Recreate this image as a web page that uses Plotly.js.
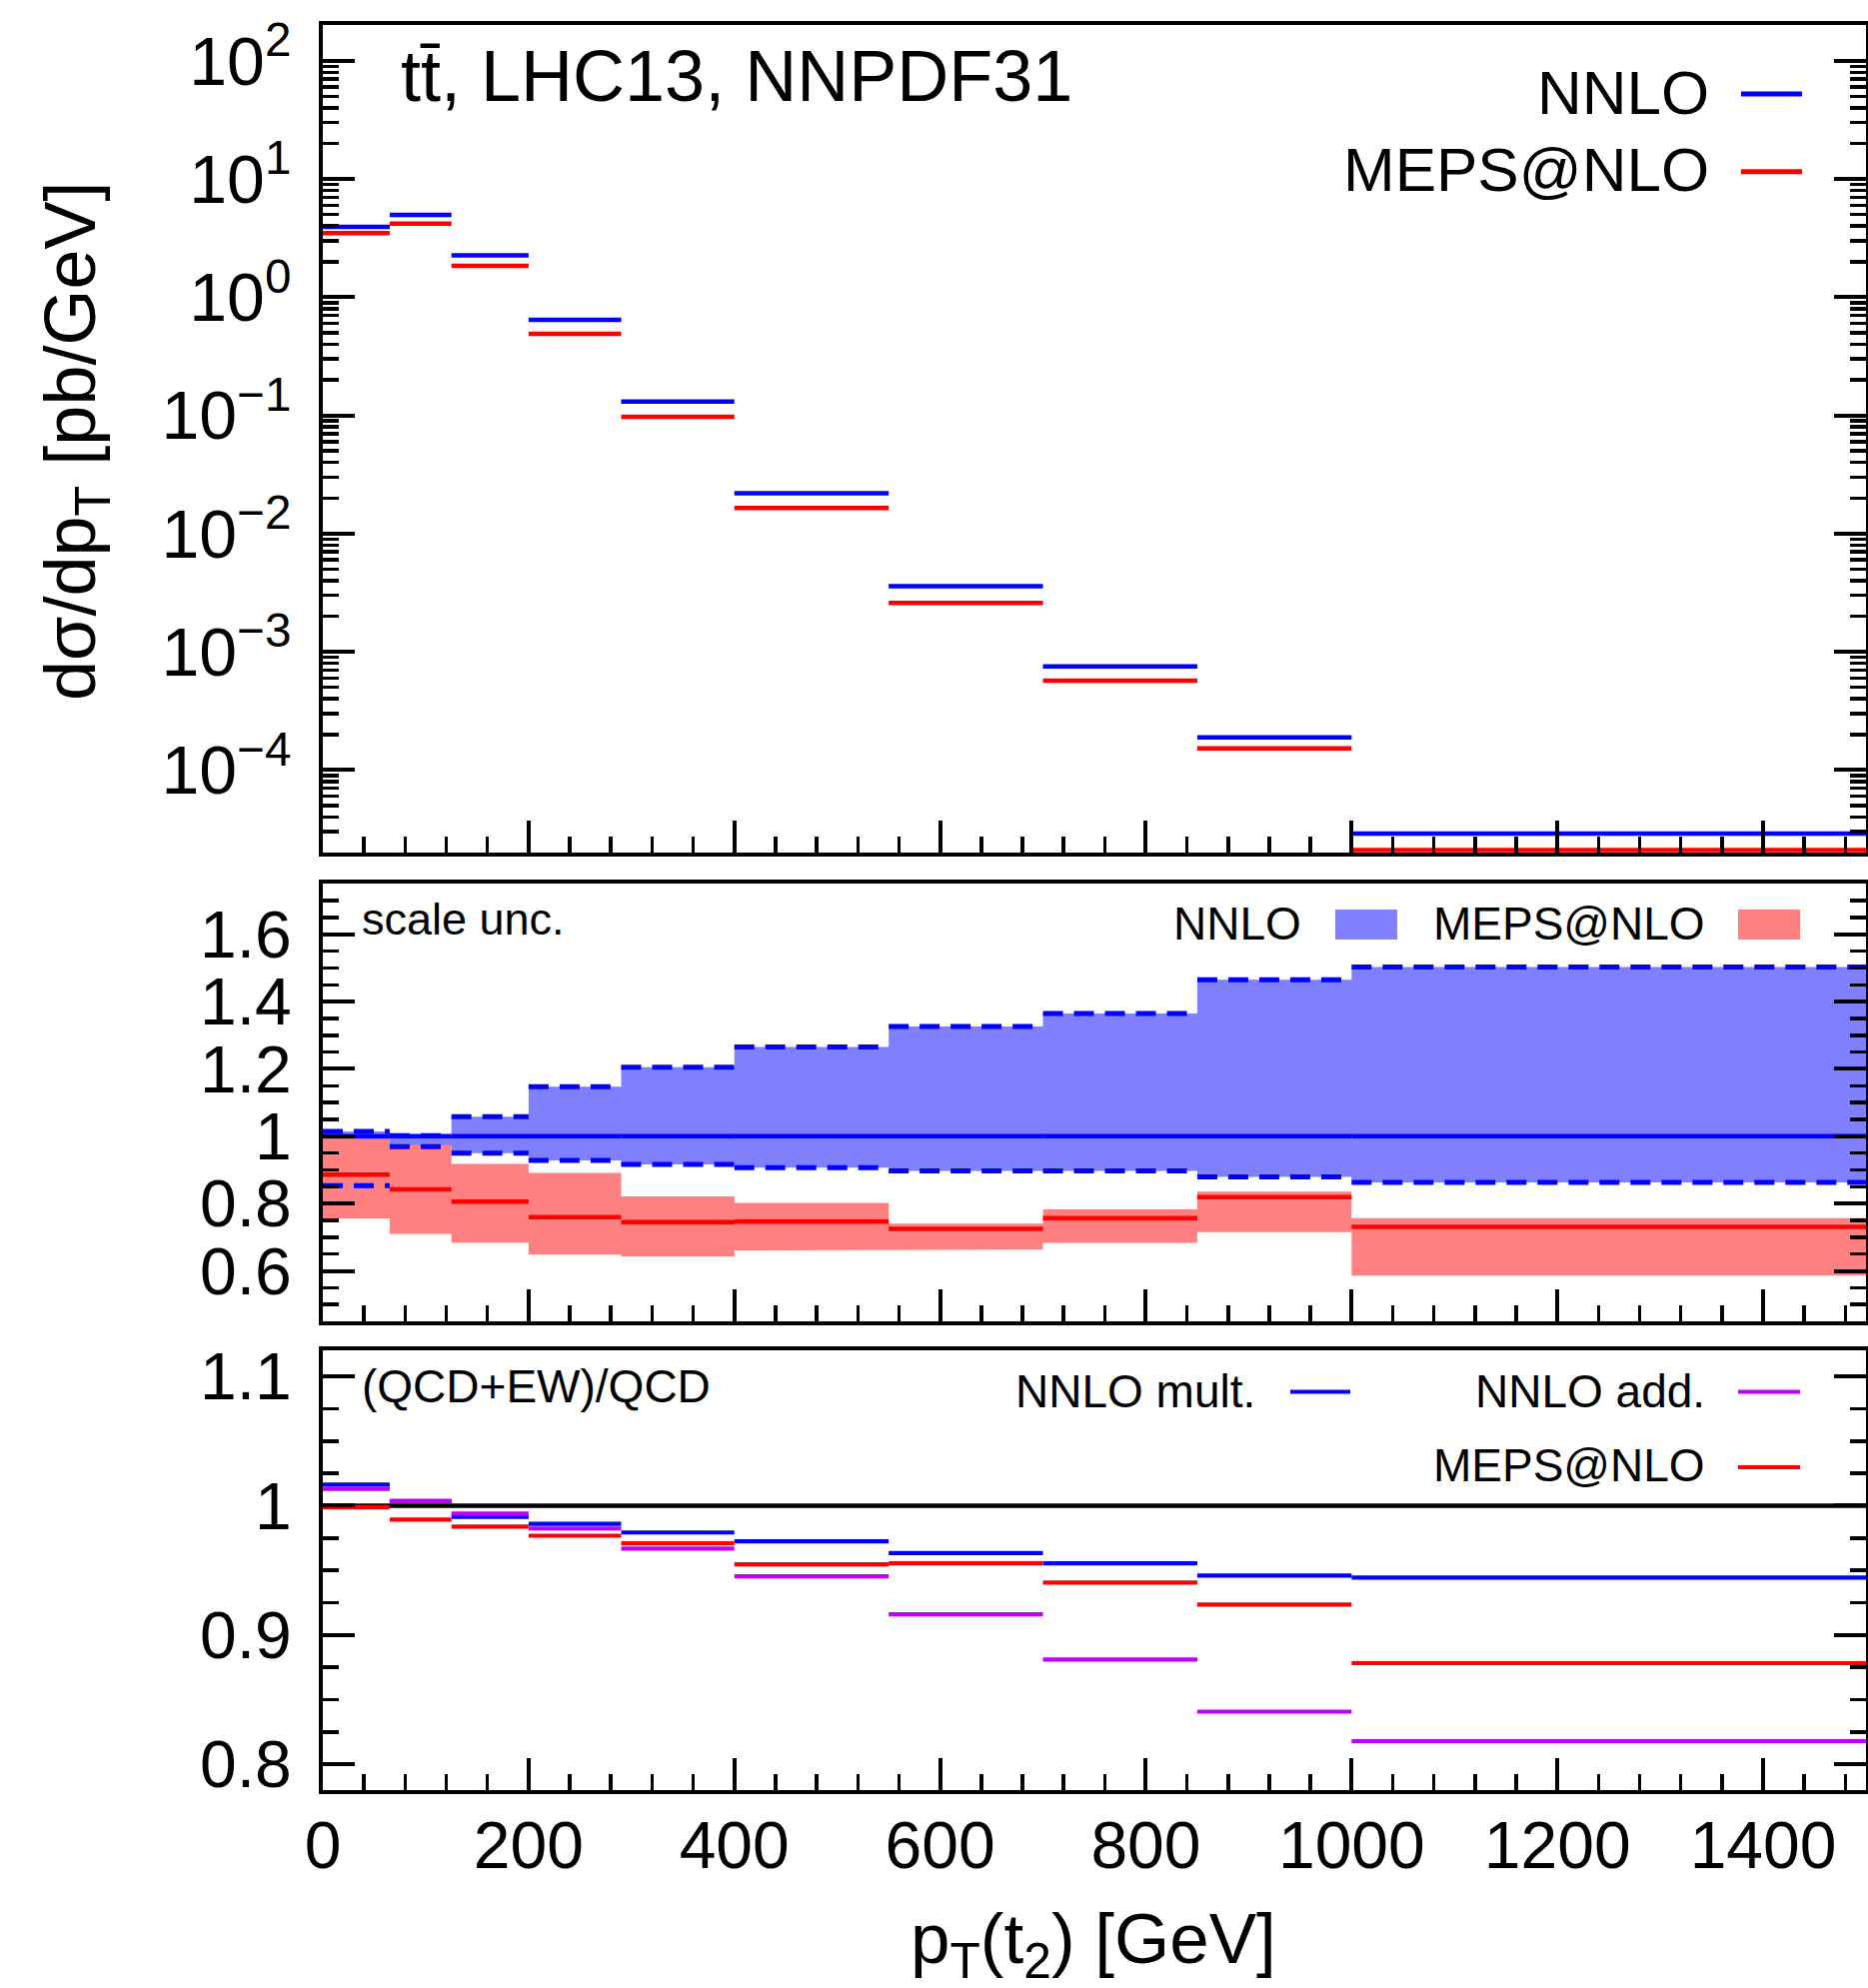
<!DOCTYPE html>
<html><head><meta charset="utf-8">
<script src="https://cdn.plot.ly/plotly-3.0.1.min.js"></script>
<style>html,body{margin:0;padding:0;background:#fff;} #plot{width:1869px;height:1989px;}</style>
</head><body><div id="plot"></div>
<script>
// ---- data ----
const binEdges = [0, 65, 125, 200, 290, 400, 550, 700, 850, 1000, 1500];

// top panel: d sigma / d pT [pb/GeV]
const nnloXsec = [3.93, 4.97, 2.26, 0.643, 0.131, 0.0219, 0.00358, 7.52e-4, 1.89e-4, 2.90e-5];
const mepsXsec = [3.49, 4.19, 1.84, 0.491, 0.0973, 0.01644, 0.00259, 5.69e-4, 1.52e-4, 2.10e-5];

// middle panel: scale uncertainty ratios
const nnloRatio     = [1, 1, 1, 1, 1, 1, 1, 1, 1, 1];
const nnloScaleUp   = [1.014, 1.002, 1.058, 1.147, 1.205, 1.265, 1.326, 1.365, 1.465, 1.503];
const nnloScaleDown = [0.853, 0.969, 0.950, 0.928, 0.916, 0.907, 0.897, 0.897, 0.879, 0.863];
const mepsRatio     = [0.886, 0.842, 0.806, 0.760, 0.745, 0.746, 0.725, 0.757, 0.819, 0.731];
const mepsScaleUp   = [0.991, 0.974, 0.918, 0.891, 0.821, 0.802, 0.740, 0.783, 0.835, 0.757];
const mepsScaleDown = [0.756, 0.710, 0.684, 0.648, 0.643, 0.661, 0.663, 0.683, 0.715, 0.586];

// bottom panel: (QCD+EW)/QCD
const ewNnloMult = [1.0163, 1.0036, 0.9913, 0.9860, 0.9793, 0.9724, 0.9633, 0.9555, 0.9460, 0.9444];
const ewNnloAdd  = [1.0130, 1.0036, 0.9939, 0.9824, 0.9668, 0.9454, 0.9160, 0.8810, 0.8407, 0.8178];
const ewMeps     = [0.9987, 0.9893, 0.9839, 0.9768, 0.9709, 0.9546, 0.9555, 0.9405, 0.9236, 0.8782];

const logTickVals = [1e-4, 1e-3, 1e-2, 1e-1, 1, 10, 100];
const logTickText = ['10<sup>\u22124</sup>', '10<sup>\u22123</sup>', '10<sup>\u22122</sup>', '10<sup>\u22121</sup>', '10<sup>0</sup>', '10<sup>1</sup>', '10<sup>2</sup>'];

// ---- helpers ----
const W = 1869, H = 1989;
const px = x => x / W;
const py = y => 1 - y / H;
const BLUE = '#0000ff', RED = '#ff0000', PURPLE = '#c000ff';
const FONT = 'Liberation Sans, Arial, Helvetica, sans-serif';

function steps(edges, vals) {
  const x = [], y = [];
  for (let i = 0; i < vals.length; i++) {
    x.push(edges[i], edges[i + 1], null);
    y.push(vals[i], vals[i], null);
  }
  return {x, y};
}
function band(edges, up, down) {
  const x = [], y = [];
  for (let i = 0; i < up.length; i++) { x.push(edges[i], edges[i + 1]); y.push(up[i], up[i]); }
  for (let i = down.length - 1; i >= 0; i--) { x.push(edges[i + 1], edges[i]); y.push(down[i], down[i]); }
  return {x, y};
}
function lineTrace(edges, vals, color, width, xa, ya, dash) {
  const s = steps(edges, vals);
  return {type: 'scatter', mode: 'lines', x: s.x, y: s.y, xaxis: xa, yaxis: ya,
          line: {color: color, width: width, dash: dash || 'solid'}, hoverinfo: 'skip', connectgaps: false};
}
function bandTrace(edges, up, down, color, xa, ya) {
  const b = band(edges, up, down);
  return {type: 'scatter', mode: 'lines', x: b.x, y: b.y, xaxis: xa, yaxis: ya,
          fill: 'toself', fillcolor: color, line: {width: 0, color: color}, hoverinfo: 'skip'};
}

const traces = [
  // top
  lineTrace(binEdges, nnloXsec, BLUE, 4.5, 'x3', 'y3'),
  lineTrace(binEdges, mepsXsec, RED, 4.5, 'x3', 'y3'),
  // middle
  bandTrace(binEdges, nnloScaleUp, nnloScaleDown, '#8080ff', 'x2', 'y2'),
  bandTrace(binEdges, mepsScaleUp, mepsScaleDown, '#ff8080', 'x2', 'y2'),
  lineTrace(binEdges, nnloScaleUp, BLUE, 5, 'x2', 'y2', '20px,11px'),
  lineTrace(binEdges, nnloScaleDown, BLUE, 5, 'x2', 'y2', '20px,11px'),
  lineTrace(binEdges, nnloRatio, BLUE, 4.5, 'x2', 'y2'),
  lineTrace(binEdges, mepsRatio, RED, 4.5, 'x2', 'y2'),
  // bottom
  lineTrace(binEdges, ewNnloMult, BLUE, 4.2, 'x', 'y'),
  lineTrace(binEdges, ewMeps, RED, 4.2, 'x', 'y'),
  lineTrace(binEdges, ewNnloAdd, PURPLE, 4.2, 'x', 'y'),
];

// minor tick positions for log axis
const logMinor = [];
for (let d = -5; d <= 2; d++) for (let k = 2; k <= 9; k++) logMinor.push(k * Math.pow(10, d));

const xDomain = [px(323), px(1867)];
function xAxis(anchor, labels) {
  return {domain: xDomain, anchor: anchor, range: [0, 1500], dtick: 200, tick0: 0,
    ticks: 'inside', ticklen: 32, tickwidth: 4, tickcolor: '#000',
    minor: {ticks: 'inside', ticklen: 16, tickwidth: 3.5, dtick: 40, tickcolor: '#000', showgrid: false},
    showline: true, linewidth: 4, linecolor: '#000', mirror: true,
    showgrid: false, zeroline: false, showticklabels: labels,
    tickfont: {family: FONT, size: 66, color: '#000'}, ticklabelstandoff: -5, fixedrange: true};
}
function yAxisLin(anchor, dom, range, dtick, minorDtick) {
  return {domain: dom, anchor: anchor, range: range, dtick: dtick, tick0: 0,
    ticks: 'inside', ticklen: 32, tickwidth: 4, tickcolor: '#000',
    minor: {ticks: 'inside', ticklen: 16, tickwidth: 3.5, dtick: minorDtick, tickcolor: '#000', showgrid: false},
    showline: true, linewidth: 4, linecolor: '#000', mirror: 'ticks',
    showgrid: false, zeroline: false,
    tickfont: {family: FONT, size: 66, color: '#000'}, ticklabelstandoff: 14, fixedrange: true};
}

const layout = {
  width: W, height: H,
  margin: {l: 0, r: 0, t: 0, b: 0},
  paper_bgcolor: '#fff', plot_bgcolor: '#fff',
  showlegend: false, hovermode: false,
  font: {family: FONT, color: '#000'},
  xaxis: xAxis('y', true),
  xaxis2: xAxis('y2', false),
  xaxis3: xAxis('y3', false),
  yaxis: yAxisLin('x', [py(1791), py(1351.3)], [0.78, 1.12], 0.1, 0.025),
  yaxis2: yAxisLin('x2', [py(1322), py(884.3)], [0.45, 1.75], 0.2, 0.05),
  yaxis3: {domain: [py(853), py(25.3)], anchor: 'x3', type: 'log',
    range: [Math.log10(2e-5), Math.log10(200)],
    tickmode: 'array', tickvals: logTickVals, ticktext: logTickText,
    ticks: 'inside', ticklen: 32, tickwidth: 4, tickcolor: '#000',
    minor: {ticks: 'inside', ticklen: 16, tickwidth: 3.5, tickmode: 'array', tickvals: logMinor, tickcolor: '#000', showgrid: false},
    showline: true, linewidth: 4, linecolor: '#000', mirror: 'ticks',
    showgrid: false, zeroline: false,
    tickfont: {family: FONT, size: 68, color: '#000'}, ticklabelstandoff: 14, fixedrange: true},
  shapes: [
    // reference line at 1 in bottom panel
    {type: 'line', xref: 'x domain', yref: 'y', x0: 0, x1: 1, y0: 1, y1: 1, line: {color: '#000', width: 4.5}, layer: 'below'},
    // legend samples
    {type: 'line', xref: 'paper', yref: 'paper', x0: px(1742), x1: px(1803), y0: py(94), y1: py(94), line: {color: BLUE, width: 5}},
    {type: 'line', xref: 'paper', yref: 'paper', x0: px(1742), x1: px(1803), y0: py(171.7), y1: py(171.7), line: {color: RED, width: 5}},
    {type: 'rect', xref: 'paper', yref: 'paper', x0: px(1336), x1: px(1398), y0: py(940), y1: py(910), fillcolor: '#8080ff', line: {width: 0}},
    {type: 'rect', xref: 'paper', yref: 'paper', x0: px(1739), x1: px(1801), y0: py(940), y1: py(910), fillcolor: '#ff8080', line: {width: 0}},
    {type: 'line', xref: 'paper', yref: 'paper', x0: px(1291), x1: px(1351), y0: py(1392.5), y1: py(1392.5), line: {color: BLUE, width: 4}},
    {type: 'line', xref: 'paper', yref: 'paper', x0: px(1739), x1: px(1801), y0: py(1392.5), y1: py(1392.5), line: {color: PURPLE, width: 4}},
    {type: 'line', xref: 'paper', yref: 'paper', x0: px(1739), x1: px(1801), y0: py(1468), y1: py(1468), line: {color: RED, width: 4}},
  ],
  annotations: [
    {text: 'tt\u0304, LHC13, NNPDF31', xref: 'paper', yref: 'paper', x: px(399), y: py(76.5), xanchor: 'left', yanchor: 'middle', showarrow: false, font: {size: 72}},
    {text: 'NNLO', xref: 'paper', yref: 'paper', x: px(1712), y: py(92.8), xanchor: 'right', yanchor: 'middle', showarrow: false, font: {size: 62}},
    {text: 'MEPS@NLO', xref: 'paper', yref: 'paper', x: px(1712), y: py(169.5), xanchor: 'right', yanchor: 'middle', showarrow: false, font: {size: 62}},
    {text: 'scale unc.', xref: 'paper', yref: 'paper', x: px(360), y: py(919.5), xanchor: 'left', yanchor: 'middle', showarrow: false, font: {size: 45}},
    {text: 'NNLO', xref: 'paper', yref: 'paper', x: px(1304), y: py(923.5), xanchor: 'right', yanchor: 'middle', showarrow: false, font: {size: 46}},
    {text: 'MEPS@NLO', xref: 'paper', yref: 'paper', x: px(1708), y: py(923.5), xanchor: 'right', yanchor: 'middle', showarrow: false, font: {size: 46}},
    {text: '(QCD+EW)/QCD', xref: 'paper', yref: 'paper', x: px(360), y: py(1387), xanchor: 'left', yanchor: 'middle', showarrow: false, font: {size: 46}},
    {text: 'NNLO mult.', xref: 'paper', yref: 'paper', x: px(1258), y: py(1391.5), xanchor: 'right', yanchor: 'middle', showarrow: false, font: {size: 46}},
    {text: 'NNLO add.', xref: 'paper', yref: 'paper', x: px(1708), y: py(1391.5), xanchor: 'right', yanchor: 'middle', showarrow: false, font: {size: 46}},
    {text: 'MEPS@NLO', xref: 'paper', yref: 'paper', x: px(1708), y: py(1466), xanchor: 'right', yanchor: 'middle', showarrow: false, font: {size: 46}},
    {text: 'd\u03c3/dp<sub>T</sub> [pb/GeV]', xref: 'paper', yref: 'paper', x: px(75), y: py(441), xanchor: 'center', yanchor: 'middle', textangle: -90, showarrow: false, font: {size: 72}},
    {text: 'p<sub>T</sub>(t<sub>2</sub>) [GeV]', xref: 'paper', yref: 'paper', x: px(1094), y: py(1945), xanchor: 'center', yanchor: 'middle', showarrow: false, font: {size: 71}},
  ],
};

Plotly.newPlot('plot', traces, layout, {staticPlot: true, displayModeBar: false});
</script>
</body></html>
